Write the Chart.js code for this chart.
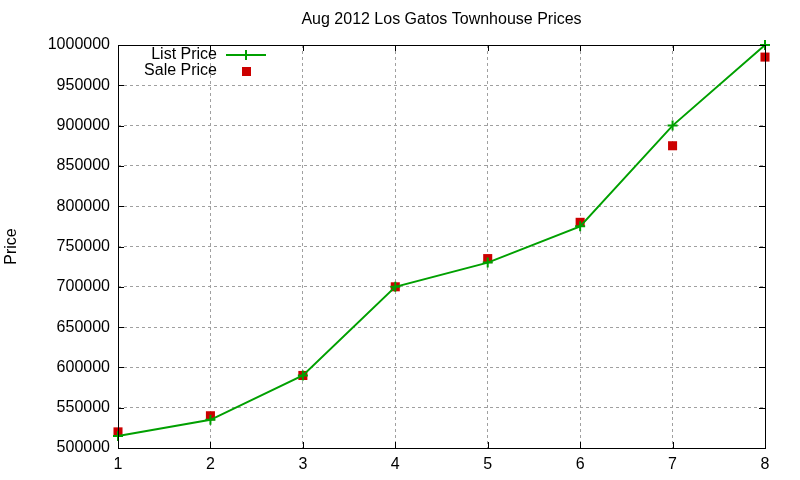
<!DOCTYPE html>
<html>
<head>
<meta charset="utf-8">
<script src="https://cdn.jsdelivr.net/npm/chart.js@4"></script>
<style>
  body { margin: 0; background: #fff; }
</style>
</head>
<body>
<canvas id="myChart" width="800" height="480"></canvas>
<script>
const months = [1, 2, 3, 4, 5, 6, 7, 8];
const listPrice = [515000, 535000, 590000, 700000, 730000, 775000, 900000, 1000000];
const salePrice = [520000, 540000, 590000, 700000, 735000, 780000, 875000, 985000];
const yTicks = [500000, 550000, 600000, 650000, 700000, 750000, 800000, 850000, 900000, 950000, 1000000];
const chartTitle = "Aug 2012 Los Gatos Townhouse Prices";

const FONT = "'Liberation Sans', Arial, sans-serif";
const green = "#00a000";
const red = "#cc0000";

// gnuplot-ish frame, inward ticks, title over the plot and key
const framePlugin = {
  id: "frame",
  afterDatasetsDraw(chart) {
    const { ctx, chartArea: a, scales } = chart;
    ctx.save();
    ctx.strokeStyle = "#000";
    ctx.lineWidth = 1;
    ctx.beginPath();
    scales.y.ticks.forEach((t) => {
      const py = Math.round(scales.y.getPixelForValue(t.value)) + 0.5;
      ctx.moveTo(a.left, py); ctx.lineTo(a.left + 6, py);
      ctx.moveTo(a.right, py); ctx.lineTo(a.right - 6, py);
    });
    scales.x.ticks.forEach((t) => {
      const px = Math.round(scales.x.getPixelForValue(t.value)) + 0.5;
      ctx.moveTo(px, a.bottom); ctx.lineTo(px, a.bottom - 6);
      ctx.moveTo(px, a.top); ctx.lineTo(px, a.top + 6);
    });
    ctx.stroke();
    ctx.strokeRect(Math.round(a.left) + 0.5, Math.round(a.top) + 0.5,
      Math.round(a.right - a.left), Math.round(a.bottom - a.top));

    ctx.font = "16px " + FONT;
    ctx.fillStyle = "#000";
    ctx.textBaseline = "middle";
    ctx.textAlign = "center";
    ctx.fillText(chartTitle, (a.left + a.right) / 2, 20);

    // key
    const ds = chart.data.datasets;
    ctx.textAlign = "right";
    ctx.fillText(ds[0].label, 217, 55);
    ctx.fillText(ds[1].label, 217, 71);
    ctx.strokeStyle = ds[0].borderColor;
    ctx.lineWidth = 2;
    ctx.beginPath();
    ctx.moveTo(226, 55); ctx.lineTo(266, 55);
    ctx.moveTo(246, 50); ctx.lineTo(246, 60);
    ctx.stroke();
    ctx.fillStyle = ds[1].backgroundColor;
    ctx.fillRect(242, 67, 9, 9);
    ctx.restore();
  },
};

const ctx = document.getElementById("myChart").getContext("2d");
const myChart = new Chart(ctx, {
  type: "line",
  data: {
    datasets: [
      {
        label: "List Price",
        data: months.map((m, i) => ({ x: m, y: listPrice[i] })),
        borderColor: green,
        backgroundColor: green,
        borderWidth: 2,
        pointStyle: "cross",
        pointRadius: 5,
        pointBorderWidth: 2,
        tension: 0,
        clip: false,
      },
      {
        label: "Sale Price",
        data: months.map((m, i) => ({ x: m, y: salePrice[i] })),
        showLine: false,
        borderColor: red,
        backgroundColor: red,
        pointStyle: "rect",
        pointRadius: 6.4,
        pointBorderWidth: 0,
        clip: false,
      },
    ],
  },
  options: {
    responsive: false,
    animation: false,
    layout: { padding: { left: 0, right: 35, top: 45, bottom: 0 } },
    plugins: {
      legend: { display: false },
      tooltip: { enabled: false },
      title: { display: false },
    },
    scales: {
      x: {
        type: "linear",
        min: 1,
        max: 8,
        afterFit: (s) => { s.height = 32; },
        ticks: { stepSize: 1, color: "#000", padding: 7, font: { family: FONT, size: 16 } },
        grid: { color: "#a0a0a0", drawTicks: false },
        border: { display: false, dash: [3, 3] },
      },
      y: {
        min: 500000,
        max: 1000000,
        afterFit: (s) => { s.width = 118; },
        afterBuildTicks: (s) => { s.ticks = yTicks.map((v) => ({ value: v })); },
        ticks: { color: "#000", padding: 8, font: { family: FONT, size: 16 },
          callback: (v) => String(v) },
        grid: { color: "#a0a0a0", drawTicks: false },
        border: { display: false, dash: [3, 3] },
        title: { display: true, text: "Price", color: "#000", padding: 2,
          font: { family: FONT, size: 16 } },
      },
    },
  },
  plugins: [framePlugin],
});
</script>
</body>
</html>
